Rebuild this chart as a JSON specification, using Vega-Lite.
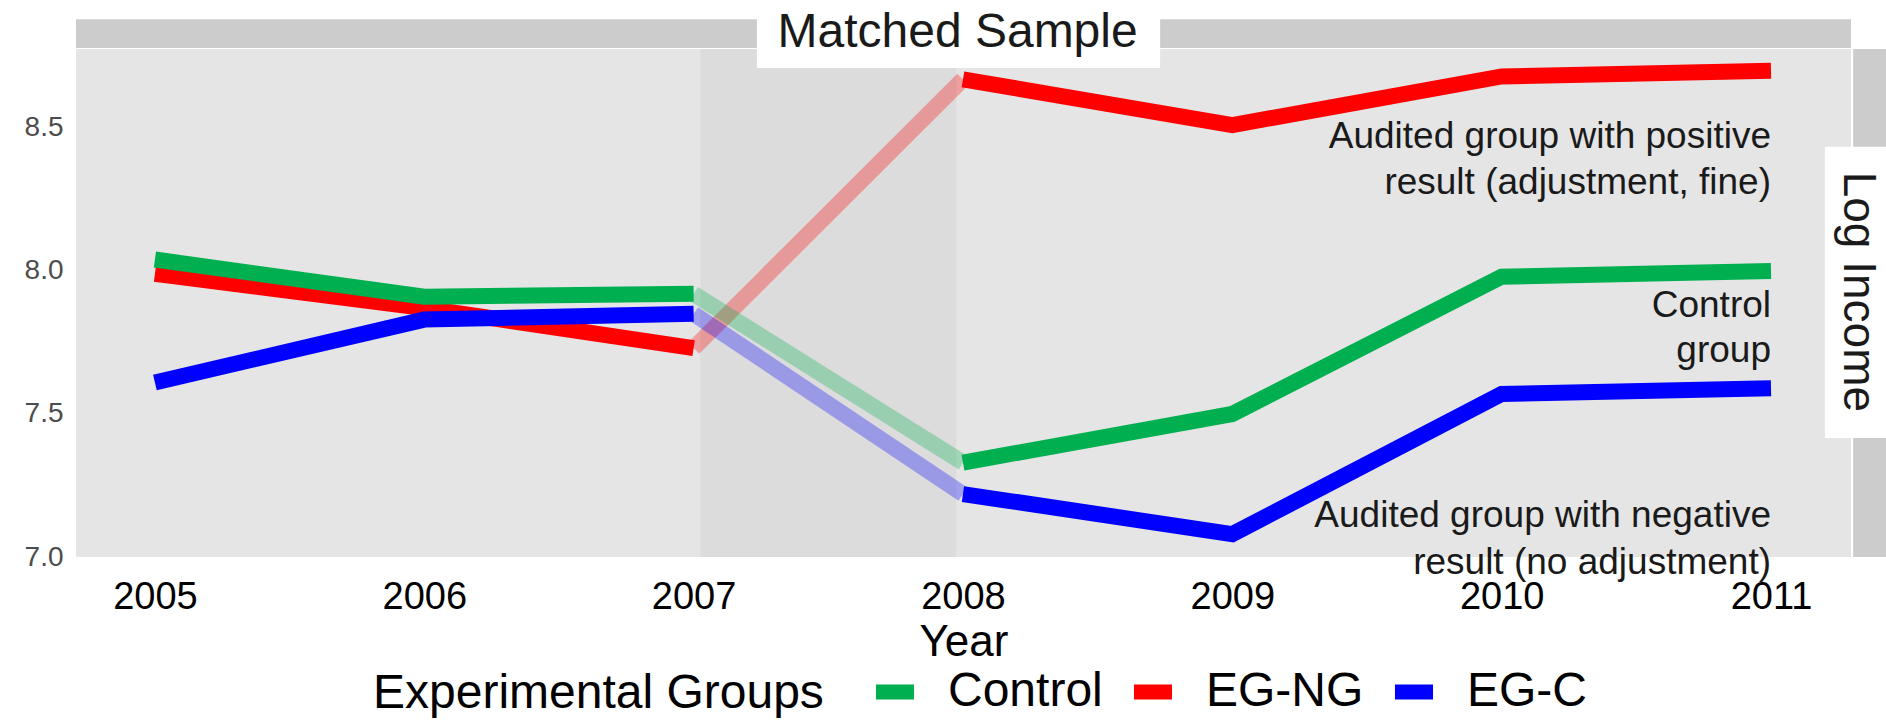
{
  "$schema": "https://vega.github.io/schema/vega-lite/v6.json",
  "width": 1775,
  "height": 508,
  "autosize": {"type": "none"},
  "padding": {"left": 76, "top": 49, "right": 35, "bottom": 167},
  "config": {
    "view": {"stroke": null, "fill": "#e5e5e5"},
    "font": "Liberation Sans",
    "axis": {"labelFont": "Liberation Sans", "titleFont": "Liberation Sans"},
    "legend": {"labelFont": "Liberation Sans", "titleFont": "Liberation Sans"},
    "text": {"font": "Liberation Sans"}
  },
  "datasets": {
    "solid": [
      {"group": "EG-NG", "seg": "pre", "year": 2005, "value": 7.99},
      {"group": "EG-NG", "seg": "pre", "year": 2006, "value": 7.87},
      {"group": "EG-NG", "seg": "pre", "year": 2007, "value": 7.73},
      {"group": "EG-NG", "seg": "post", "year": 2008, "value": 8.67},
      {"group": "EG-NG", "seg": "post", "year": 2009, "value": 8.51},
      {"group": "EG-NG", "seg": "post", "year": 2010, "value": 8.68},
      {"group": "EG-NG", "seg": "post", "year": 2011, "value": 8.70},
      {"group": "Control", "seg": "pre", "year": 2005, "value": 8.04},
      {"group": "Control", "seg": "pre", "year": 2006, "value": 7.91},
      {"group": "Control", "seg": "pre", "year": 2007, "value": 7.92},
      {"group": "Control", "seg": "post", "year": 2008, "value": 7.33},
      {"group": "Control", "seg": "post", "year": 2009, "value": 7.50},
      {"group": "Control", "seg": "post", "year": 2010, "value": 7.98},
      {"group": "Control", "seg": "post", "year": 2011, "value": 8.00},
      {"group": "EG-C", "seg": "pre", "year": 2005, "value": 7.61},
      {"group": "EG-C", "seg": "pre", "year": 2006, "value": 7.83},
      {"group": "EG-C", "seg": "pre", "year": 2007, "value": 7.85},
      {"group": "EG-C", "seg": "post", "year": 2008, "value": 7.22},
      {"group": "EG-C", "seg": "post", "year": 2009, "value": 7.08},
      {"group": "EG-C", "seg": "post", "year": 2010, "value": 7.57},
      {"group": "EG-C", "seg": "post", "year": 2011, "value": 7.59}
    ],
    "bridge": [
      {"group": "EG-NG", "year": 2007, "value": 7.73},
      {"group": "EG-NG", "year": 2008, "value": 8.67},
      {"group": "Control", "year": 2007, "value": 7.92},
      {"group": "Control", "year": 2008, "value": 7.33},
      {"group": "EG-C", "year": 2007, "value": 7.85},
      {"group": "EG-C", "year": 2008, "value": 7.22}
    ]
  },
  "layer": [
    {
      "data": {"values": [{}]},
      "mark": {"type": "rect", "color": "#dcdcdc"},
      "encoding": {
        "x": {"datum": 2007.025, "type": "quantitative", "scale": {"domain": [2004.707, 2011.297], "nice": false, "zero": false}, "axis": null},
        "x2": {"datum": 2007.975},
        "y": {"datum": 7.0, "type": "quantitative", "scale": {"domain": [7.0, 8.776], "nice": false, "zero": false}, "axis": null},
        "y2": {"datum": 8.776}
      }
    },
    {
      "data": {"name": "bridge"},
      "mark": {"type": "line", "strokeWidth": 16, "opacity": 0.3},
      "encoding": {
        "x": {"field": "year", "type": "quantitative", "scale": {"domain": [2004.707, 2011.297], "nice": false, "zero": false},
          "axis": {"orient": "top", "values": [2005.5, 2006.5, 2007.5, 2008.5, 2009.5, 2010.5], "labels": false, "ticks": false, "domain": false, "title": null, "gridColor": "#ececec", "gridWidth": 1.5}},
        "y": {"field": "value", "type": "quantitative", "scale": {"domain": [7.0, 8.776], "nice": false, "zero": false},
          "axis": {"orient": "right", "values": [7.25, 7.75, 8.25, 8.75], "labels": false, "ticks": false, "domain": false, "title": null, "gridColor": "#ececec", "gridWidth": 1.5}},
        "color": {"field": "group", "type": "nominal", "scale": {"domain": ["Control", "EG-NG", "EG-C"], "range": ["#00B050", "#FF0000", "#0000FF"]}, "legend": null}
      }
    },
    {
      "data": {"name": "solid"},
      "mark": {"type": "line", "strokeWidth": 16},
      "encoding": {
        "x": {"field": "year", "type": "quantitative", "scale": {"domain": [2004.707, 2011.297], "nice": false, "zero": false},
          "axis": {"values": [2005, 2006, 2007, 2008, 2009, 2010, 2011], "format": "d", "labelFontSize": 38, "labelColor": "#000000", "labelPadding": 21, "ticks": false, "domain": false, "gridColor": "#ffffff", "gridWidth": 2.2, "title": "Year", "titleFontSize": 44, "titleFontWeight": "normal", "titleColor": "#000000", "titlePadding": 4, "labelFlush": false}},
        "y": {"field": "value", "type": "quantitative", "scale": {"domain": [7.0, 8.776], "nice": false, "zero": false},
          "axis": {"values": [7.0, 7.5, 8.0, 8.5], "format": ".1f", "labelFontSize": 28, "labelColor": "#4d4d4d", "labelPadding": 13, "ticks": false, "domain": false, "gridColor": "#ffffff", "gridWidth": 2.2, "title": null, "labelFlush": false}},
        "color": {"field": "group", "type": "nominal", "scale": {"domain": ["Control", "EG-NG", "EG-C"], "range": ["#00B050", "#FF0000", "#0000FF"]},
          "legend": {"title": "Experimental Groups", "orient": "none", "legendX": 297, "legendY": 616, "direction": "horizontal", "titleOrient": "left", "titleFontSize": 48, "titleFontWeight": "normal", "titleColor": "#000000", "titleLimit": 1000, "titlePadding": 44, "titleBaseline": "middle",
            "labelFontSize": 48, "labelColor": "#000000", "labelLimit": 500, "labelOffset": 26, "columnPadding": 0,
            "symbolType": "stroke", "symbolStrokeWidth": 15, "symbolSize": 1450, "symbolOpacity": 1}},
        "detail": {"field": "seg"}
      }
    },
    {
      "data": {"values": [{}]},
      "mark": {"type": "rect", "color": "#cccccc"},
      "encoding": {
        "x": {"datum": 2004.707, "type": "quantitative", "scale": {"domain": [2004.707, 2011.297], "nice": false, "zero": false}, "axis": null},
        "x2": {"datum": 2011.297},
        "y": {"datum": 8.7795, "type": "quantitative", "scale": {"domain": [7.0, 8.776], "nice": false, "zero": false}, "axis": null},
        "y2": {"datum": 8.88}
      }
    },
    {
      "data": {"values": [{}]},
      "mark": {"type": "rect", "color": "#cccccc"},
      "encoding": {
        "x": {"datum": 2011.305, "type": "quantitative", "scale": {"domain": [2004.707, 2011.297], "nice": false, "zero": false}, "axis": null},
        "x2": {"datum": 2011.45},
        "y": {"datum": 7.0, "type": "quantitative", "scale": {"domain": [7.0, 8.776], "nice": false, "zero": false}, "axis": null},
        "y2": {"datum": 8.776}
      }
    },
    {
      "data": {"values": [{}]},
      "mark": {"type": "rect", "color": "#ffffff"},
      "encoding": {
        "x": {"datum": 2007.235, "type": "quantitative", "scale": {"domain": [2004.707, 2011.297], "nice": false, "zero": false}, "axis": null},
        "x2": {"datum": 2008.732},
        "y": {"datum": 8.710, "type": "quantitative", "scale": {"domain": [7.0, 8.776], "nice": false, "zero": false}, "axis": null},
        "y2": {"datum": 8.96}
      }
    },
    {
      "data": {"values": [{}]},
      "mark": {"type": "rect", "color": "#ffffff"},
      "encoding": {
        "x": {"datum": 2011.2, "type": "quantitative", "scale": {"domain": [2004.707, 2011.297], "nice": false, "zero": false}, "axis": null},
        "x2": {"datum": 2011.45},
        "y": {"datum": 7.416, "type": "quantitative", "scale": {"domain": [7.0, 8.776], "nice": false, "zero": false}, "axis": null},
        "y2": {"datum": 8.434}
      }
    },
    {
      "data": {"values": [{}]},
      "mark": {"type": "text", "fontSize": 48, "color": "#1a1a1a", "align": "center", "baseline": "alphabetic"},
      "encoding": {
        "x": {"datum": 2007.98, "type": "quantitative", "scale": {"domain": [2004.707, 2011.297], "nice": false, "zero": false}, "axis": null},
        "y": {"datum": 8.783, "type": "quantitative", "scale": {"domain": [7.0, 8.776], "nice": false, "zero": false}, "axis": null},
        "text": {"value": "Matched Sample"}
      }
    },
    {
      "data": {"values": [{}]},
      "mark": {"type": "text", "fontSize": 46, "color": "#1a1a1a", "align": "center", "baseline": "middle", "angle": 90},
      "encoding": {
        "x": {"datum": 2011.322, "type": "quantitative", "scale": {"domain": [2004.707, 2011.297], "nice": false, "zero": false}, "axis": null},
        "y": {"datum": 7.927, "type": "quantitative", "scale": {"domain": [7.0, 8.776], "nice": false, "zero": false}, "axis": null},
        "text": {"value": "Log Income"}
      }
    },
    {
      "data": {"values": [{}]},
      "mark": {"type": "text", "fontSize": 37, "color": "#1a1a1a", "align": "right", "baseline": "alphabetic", "lineHeight": 46},
      "encoding": {
        "x": {"datum": 2011, "type": "quantitative", "scale": {"domain": [2004.707, 2011.297], "nice": false, "zero": false}, "axis": null},
        "y": {"datum": 8.43, "type": "quantitative", "scale": {"domain": [7.0, 8.776], "nice": false, "zero": false}, "axis": null},
        "text": {"value": ["Audited group with positive", "result (adjustment, fine)"]}
      }
    },
    {
      "data": {"values": [{}]},
      "mark": {"type": "text", "fontSize": 37, "color": "#1a1a1a", "align": "right", "baseline": "alphabetic", "lineHeight": 45},
      "encoding": {
        "x": {"datum": 2011, "type": "quantitative", "scale": {"domain": [2004.707, 2011.297], "nice": false, "zero": false}, "axis": null},
        "y": {"datum": 7.839, "type": "quantitative", "scale": {"domain": [7.0, 8.776], "nice": false, "zero": false}, "axis": null},
        "text": {"value": ["Control", "group"]}
      }
    },
    {
      "data": {"values": [{}]},
      "mark": {"type": "text", "fontSize": 37, "color": "#1a1a1a", "align": "right", "baseline": "alphabetic", "lineHeight": 47},
      "encoding": {
        "x": {"datum": 2011, "type": "quantitative", "scale": {"domain": [2004.707, 2011.297], "nice": false, "zero": false}, "axis": null},
        "y": {"datum": 7.105, "type": "quantitative", "scale": {"domain": [7.0, 8.776], "nice": false, "zero": false}, "axis": null},
        "text": {"value": ["Audited group with negative", "result (no adjustment)"]}
      }
    }
  ],
  "resolve": {"axis": {"x": "independent", "y": "independent"}, "legend": {"color": "independent"}}
}
